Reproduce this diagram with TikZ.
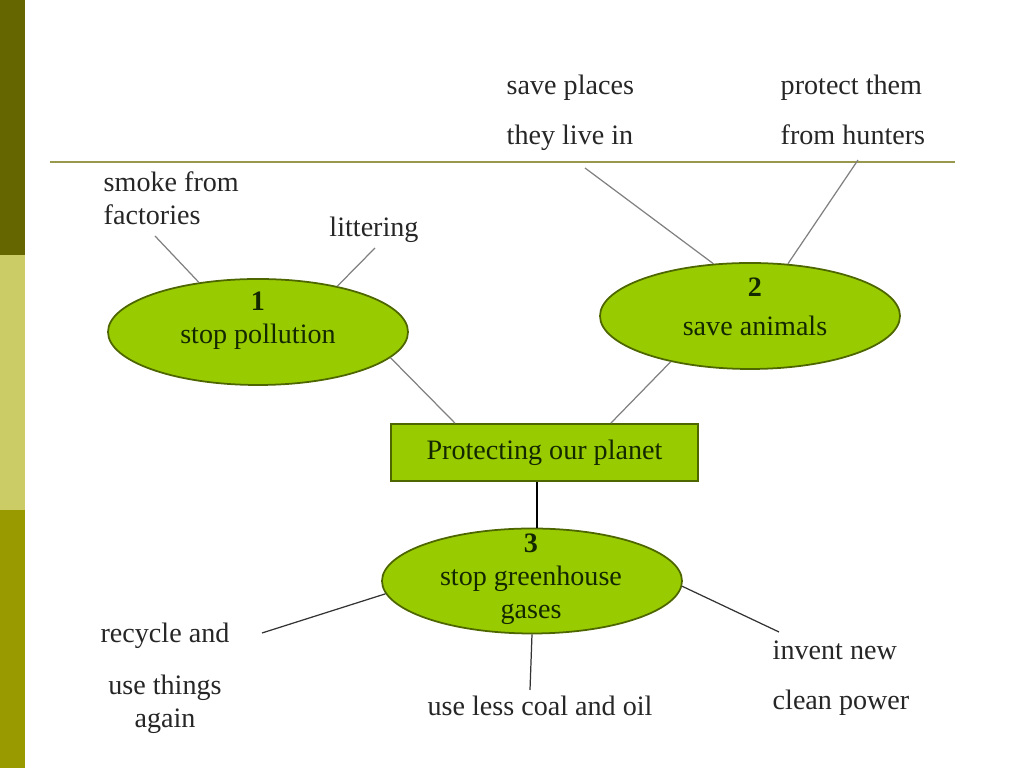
\documentclass[tikz,border=0pt]{standalone}
\usepackage{fontspec}
\setmainfont{Liberation Serif}
\usetikzlibrary{shapes.geometric,calc}
\definecolor{bardark}{RGB}{102,102,0}
\definecolor{barlight}{RGB}{204,204,102}
\definecolor{barmid}{RGB}{153,153,0}
\definecolor{rulecol}{RGB}{153,153,77}
\definecolor{leaf}{RGB}{153,204,0}
\definecolor{leafedge}{RGB}{77,102,0}
\definecolor{inktext}{RGB}{20,40,0}
\tikzset{
  topic/.style={ellipse,draw=leafedge,fill=leaf,line width=0.5pt,minimum width=3cm,minimum height=1.06cm,inner sep=0pt},
  topictext/.style={align=center,text=inktext,font=\fontsize{8}{9.4}\selectfont},
  idea/.style={font=\fontsize{8}{9.4}\selectfont,text=black!85,inner sep=0pt},
  twig/.style={draw=gray,line width=0.35pt},
}
\begin{document}
\begin{tikzpicture}
\useasboundingbox (0,0) rectangle (10.24,7.68);
% side bar and rule
\fill[bardark] (0,7.68) rectangle (0.25,5.13);
\fill[barlight] (0,5.13) rectangle (0.25,2.58);
\fill[barmid] (0,2.58) rectangle (0.25,0);
\draw[rulecol,line width=0.6pt] (0.5,6.06) -- (9.55,6.06);

% centre box
\node[draw=leafedge,fill=leaf,line width=0.5pt,minimum width=3.07cm,minimum height=0.57cm,
  inner sep=0pt,text=inktext,font=\fontsize{8}{9.4}\selectfont] (planet) at (5.445,3.155) {Protecting our planet};

% the three topics
\node[topic] (pollution) at (2.58,4.36) {};
\node[topictext] (pollutiontxt) at (2.58,4.475) {\textbf{1}\\stop pollution};
\node[topic] (animals) at (7.50,4.52) {};
\node[topictext] (animalstxt) at (7.55,4.615) {\textbf{2}\\[1.7pt]save animals};
\node[topic,minimum height=1.05cm] (greenhouse) at (5.32,1.87) {};
\node[topictext] (greenhousetxt) at (5.31,1.885) {\textbf{3}\\stop greenhouse\\gases};

% ideas
\node[idea,anchor=west,align=left] (smoketxt) at (1.03,5.70) {smoke from\\factories};
\node[idea] (litteringtxt) at (3.74,5.38) {littering};
\node[idea,anchor=west,align=left] (placestxt) at (5.06,6.555) {save places\\[4.8pt]they live in};
\node[idea,anchor=west,align=left] (protecttxt) at (7.80,6.58) {protect them\\[4.8pt]from hunters};
\node[idea,align=center] (recycletxt) at (1.65,0.90) {recycle and\\[5.4pt]use things\\again};
\node[idea] (coaltxt) at (5.40,0.62) {use less coal and oil};
\node[idea,anchor=west,align=left] (inventtxt) at (7.72,0.90) {invent new\\[4.8pt]clean power};

\coordinate (smokeend) at (1.55,5.32);
\coordinate (litteringend) at (3.75,5.20);
\coordinate (placesend) at (5.85,6.00);
\coordinate (protectend) at (8.58,6.08);
\coordinate (recycleend) at (2.62,1.35);
\coordinate (coalend) at (5.30,0.78);
\coordinate (inventend) at (7.79,1.36);

% connectors
\draw[twig] (pollution.140) -- (smokeend);
\draw[twig] (pollution.30) -- (litteringend);
\draw[twig] (animals.125) -- (placesend);
\draw[twig] (animals.54) -- (protectend);
\draw[twig] (pollution.-11) -- ($(planet.north west)!.21!(planet.north east)$);
\draw[twig] (animals.210) -- ($(planet.north west)!.715!(planet.north east)$);
\draw[line width=0.45pt] ([xshift=0.05cm]greenhouse.north |- planet.south) -- ([xshift=0.05cm]greenhouse.north);
\draw[twig,draw=black!80] (greenhouse.185) -- (recycleend);
\draw[twig,draw=black!80] (greenhouse.270) -- (coalend);
\draw[twig,draw=black!80] (greenhouse.-2) -- (inventend);
\end{tikzpicture}
\end{document}
